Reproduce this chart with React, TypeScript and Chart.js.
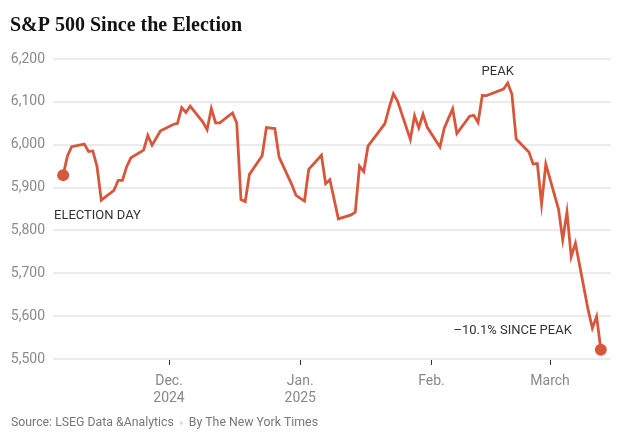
import { useEffect, useRef } from "react";
import { Chart, registerables } from "chart.js";

Chart.register(...registerables);

const tradingDates: string[] = [
  "2024-11-06", "2024-11-07", "2024-11-08", "2024-11-11", "2024-11-12", "2024-11-13", "2024-11-14", "2024-11-15",
  "2024-11-18", "2024-11-19", "2024-11-20", "2024-11-21", "2024-11-22", "2024-11-25", "2024-11-26", "2024-11-27",
  "2024-11-29", "2024-12-02", "2024-12-03", "2024-12-04", "2024-12-05", "2024-12-06", "2024-12-09", "2024-12-10",
  "2024-12-11", "2024-12-12", "2024-12-13", "2024-12-16", "2024-12-17", "2024-12-18", "2024-12-19", "2024-12-20",
  "2024-12-23", "2024-12-24", "2024-12-26", "2024-12-27", "2024-12-30", "2024-12-31", "2025-01-02", "2025-01-03",
  "2025-01-06", "2025-01-07", "2025-01-08", "2025-01-10", "2025-01-13", "2025-01-14", "2025-01-15", "2025-01-16",
  "2025-01-17", "2025-01-21", "2025-01-22", "2025-01-23", "2025-01-24", "2025-01-27", "2025-01-28", "2025-01-29",
  "2025-01-30", "2025-01-31", "2025-02-03", "2025-02-04", "2025-02-05", "2025-02-06", "2025-02-07", "2025-02-10",
  "2025-02-11", "2025-02-12", "2025-02-13", "2025-02-14", "2025-02-18", "2025-02-19", "2025-02-20", "2025-02-21",
  "2025-02-24", "2025-02-25", "2025-02-26", "2025-02-27", "2025-02-28", "2025-03-03", "2025-03-04", "2025-03-05",
  "2025-03-06", "2025-03-07", "2025-03-10", "2025-03-11", "2025-03-12", "2025-03-13",
];

const closes: number[] = [
  5929.04, 5973.1, 5995.54, 6001.35, 5983.99, 5985.38, 5949.17, 5870.62,
  5893.62, 5916.98, 5917.11, 5948.71, 5969.34, 5987.37, 6021.63, 5998.74,
  6032.38, 6047.15, 6049.88, 6086.49, 6075.11, 6090.27, 6052.85, 6034.91,
  6084.19, 6051.25, 6051.09, 6074.08, 6050.61, 5872.16, 5867.08, 5930.85,
  5974.07, 6040.04, 6037.59, 5970.84, 5906.94, 5881.63, 5868.55, 5942.47,
  5975.38, 5909.03, 5918.25, 5827.04, 5836.22, 5842.91, 5949.91, 5937.34,
  5996.66, 6049.24, 6086.37, 6118.71, 6101.24, 6012.28, 6067.7, 6039.31,
  6071.17, 6040.53, 5994.57, 6037.88, 6061.48, 6083.57, 6025.99, 6066.44,
  6068.5, 6051.97, 6115.07, 6114.63, 6129.58, 6144.15, 6117.52, 6013.13,
  5983.25, 5955.25, 5956.06, 5861.57, 5954.5, 5849.72, 5778.15, 5842.63,
  5738.52, 5770.2, 5614.56, 5572.07, 5599.3, 5521.52,
];

const monthTickDates: string[] = ["2024-12-01", "2025-01-01", "2025-02-01", "2025-03-01"];
const monthTickLabels: string[][] = [["Dec.", "2024"], ["Jan.", "2025"], ["Feb."], ["March"]];
const yTickValues: number[] = [5500, 5600, 5700, 5800, 5900, 6000, 6100, 6200];

const titleText = "S&P 500 Since the Election";
const sourceText = "Source: LSEG Data &Analytics";
const creditText = "By The New York Times";
const electionLabel = "ELECTION DAY";
const peakLabel = "PEAK";
const sincePeakLabel = "\u201310.1% SINCE PEAK";

const ORIGIN = Date.UTC(2024, 10, 6);
function dayNum(s: string): number {
  const [y, m, d] = s.split("-").map(Number);
  return (Date.UTC(y, m - 1, d) - ORIGIN) / 86400000;
}

const LINE = "#d6573b";
const SANS = "Roboto, 'Liberation Sans', sans-serif";

export default function App() {
  const canvasRef = useRef<HTMLCanvasElement | null>(null);

  useEffect(() => {
    document.body.style.margin = "0";
    const canvas = canvasRef.current;
    if (!canvas) return;

    const points = tradingDates.map((d, i) => ({ x: dayNum(d), y: closes[i] }));
    const lastIdx = points.length - 1;
    let peakIdx = 0;
    closes.forEach((v, i) => {
      if (v > closes[peakIdx]) peakIdx = i;
    });
    const tickDays = monthTickDates.map(dayNum);

    const textPlugin = {
      id: "texts",
      afterDraw(chart: any) {
        const ctx = chart.ctx as CanvasRenderingContext2D;
        const xs = chart.scales.x;
        const ys = chart.scales.y;
        ctx.save();
        ctx.fillStyle = "#121212";
        ctx.font = "bold 20px 'Liberation Serif', 'DejaVu Serif', serif";
        ctx.textAlign = "left";
        ctx.textBaseline = "alphabetic";
        ctx.fillText(titleText, 10, 31);

        ctx.font = `13px ${SANS}`;
        ctx.fillStyle = "#333333";
        ctx.textBaseline = "middle";
        const p0 = points[0];
        ctx.textAlign = "left";
        ctx.fillText(electionLabel, 54, ys.getPixelForValue(p0.y) + 41);

        const pk = points[peakIdx];
        ctx.textAlign = "center";
        ctx.fillText(peakLabel, xs.getPixelForValue(pk.x) - 10, ys.getPixelForValue(pk.y) - 11);

        const pl = points[lastIdx];
        ctx.textAlign = "right";
        ctx.fillText(sincePeakLabel, xs.getPixelForValue(pl.x) - 29, ys.getPixelForValue(pl.y) - 19);

        ctx.font = `12.3px ${SANS}`;
        ctx.fillStyle = "#777777";
        ctx.textAlign = "left";
        ctx.textBaseline = "middle";
        const sy = 423;
        ctx.fillText(sourceText, 11, sy);
        const w1 = ctx.measureText(sourceText).width;
        ctx.fillStyle = "#dddddd";
        ctx.fillRect(11 + w1 + 6, sy - 1.5, 3, 3);
        ctx.fillStyle = "#777777";
        ctx.fillText(creditText, 11 + w1 + 15, sy);
        ctx.restore();
      },
    };

    const chart = new Chart(canvas, {
      type: "line",
      data: {
        datasets: [
          {
            data: points,
            borderColor: LINE,
            borderWidth: 2.8,
            tension: 0,
            pointRadius: (c: any) => (c.dataIndex === 0 || c.dataIndex === lastIdx ? 6 : 0),
            pointBackgroundColor: LINE,
            pointBorderWidth: 0,
            pointHoverRadius: 0,
            clip: false,
          },
        ],
      },
      options: {
        animation: false,
        responsive: true,
        maintainAspectRatio: false,
        events: [],
        layout: { padding: { top: 59, left: 0, right: 11, bottom: 0 } },
        plugins: { legend: { display: false }, tooltip: { enabled: false }, title: { display: false } },
        scales: {
          x: {
            type: "linear",
            min: -2.4,
            max: 129.4,
            afterFit: (s: any) => {
              s.height = 86;
            },
            afterBuildTicks: (s: any) => {
              s.ticks = tickDays.map((v) => ({ value: v }));
            },
            grid: { drawOnChartArea: false, drawTicks: true, tickLength: 6, color: "#333333", lineWidth: 1 },
            border: { display: false },
            ticks: {
              padding: 8,
              color: "#888888",
              font: { family: SANS, size: 14, lineHeight: 1.2 },
              maxRotation: 0,
              autoSkip: false,
              callback: (_v: any, i: number) => monthTickLabels[i],
            },
          },
          y: {
            min: 5500,
            max: 6200,
            afterFit: (s: any) => {
              s.width = 53;
            },
            afterBuildTicks: (s: any) => {
              s.ticks = yTickValues.map((v) => ({ value: v }));
            },
            grid: { color: "#ebebeb", lineWidth: 2, drawTicks: false },
            border: { display: false },
            ticks: {
              padding: 8,
              color: "#8a8a8a",
              font: { family: SANS, size: 14 },
              callback: (v: any) => Number(v).toLocaleString("en-US"),
            },
          },
        },
      },
      plugins: [textPlugin],
    } as any);

    return () => chart.destroy();
  }, []);

  return (
    <div style={{ width: 622, height: 445, position: "relative", background: "#ffffff" }}>
      <canvas ref={canvasRef} />
    </div>
  );
}
